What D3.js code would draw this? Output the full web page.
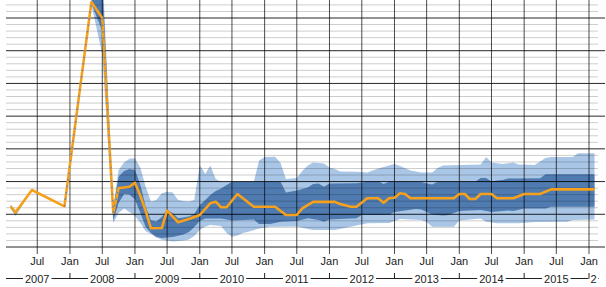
<!DOCTYPE html>
<meta charset="utf-8">
<style>
  body { margin: 0; background: #fff; }
  text { font-family: "Liberation Sans", Arial, sans-serif; font-size: 11px; fill: #222; }
</style>
<body>
<svg id="chart" width="606" height="287"></svg>
<script src="https://cdn.jsdelivr.net/npm/d3@7/dist/d3.min.js"></script>
<script>
// median path (orange)
var median = [
  ["2007-02", 6.16], ["2007-03", 5.3], ["2007-06", 8.71], ["2007-12", 6.2],
  ["2008-05", 37.45], ["2008-07", 35.0], ["2008-09", 5.25], ["2008-10", 9.0],
  ["2008-11", 9.1], ["2008-12", 9.2], ["2009-01", 9.83], ["2009-02", 7.8],
  ["2009-03", 5.6], ["2009-04", 2.86], ["2009-06", 2.9], ["2009-07", 5.55],
  ["2009-09", 3.78], ["2009-11", 4.28], ["2010-01", 4.89], ["2010-03", 6.68],
  ["2010-04", 6.92], ["2010-05", 6.07], ["2010-06", 6.07], ["2010-08", 8.1],
  ["2010-11", 6.16], ["2011-03", 6.16], ["2011-05", 4.89], ["2011-07", 4.89],
  ["2011-08", 5.91], ["2011-10", 6.9], ["2012-02", 6.9], ["2012-03", 6.57],
  ["2012-05", 6.16], ["2012-06", 6.16], ["2012-08", 7.44], ["2012-10", 7.44],
  ["2012-11", 6.77], ["2012-12", 7.44], ["2013-01", 7.53], ["2013-02", 8.21],
  ["2013-03", 8.1], ["2013-04", 7.44], ["2013-12", 7.44], ["2014-01", 8.1],
  ["2014-02", 8.1], ["2014-03", 7.34], ["2014-04", 7.34], ["2014-05", 8.1],
  ["2014-07", 8.1], ["2014-08", 7.44], ["2014-11", 7.44], ["2015-01", 8.1],
  ["2015-04", 8.1], ["2015-06", 8.8], ["2016-02", 8.8]
];

// outer (light) band
var outerUpper = [
  ["2007-02", 6.5], ["2007-03", 5.6], ["2007-06", 8.76], ["2007-12", 6.25],
  ["2008-05", 37.8], ["2008-07", 43], ["2008-09", 6.2], ["2008-10", 11.77],
  ["2008-11", 12.9], ["2008-12", 13.5], ["2009-01", 13.56], ["2009-02", 12.07],
  ["2009-03", 9.32], ["2009-04", 6.95], ["2009-05", 7.18], ["2009-06", 8.21],
  ["2009-07", 8.45], ["2009-08", 8.33], ["2009-09", 7.18], ["2009-10", 7.03],
  ["2009-11", 6.95], ["2009-12", 7.18], ["2010-01", 12.53], ["2010-02", 11.16],
  ["2010-03", 12.46], ["2010-04", 10.39], ["2010-05", 9.98], ["2010-11", 9.98],
  ["2010-12", 13.22], ["2011-01", 13.76], ["2011-03", 13.8], ["2011-04", 12.84],
  ["2011-05", 10.39], ["2011-07", 10.55], ["2011-08", 11.6], ["2011-09", 12.46],
  ["2011-10", 12.91], ["2011-12", 12.76], ["2012-01", 12.15], ["2012-02", 11.92],
  ["2012-03", 11.54], ["2012-06", 11.51], ["2012-08", 11.39], ["2012-10", 12.0],
  ["2012-12", 12.46], ["2013-01", 12.69], ["2013-02", 12.38], ["2013-04", 11.69],
  ["2013-06", 11.39], ["2013-08", 11.39], ["2013-09", 12.07], ["2013-10", 12.46],
  ["2014-05", 12.61], ["2014-06", 13.76], ["2014-07", 12.91], ["2014-09", 12.69],
  ["2014-11", 12.91], ["2014-12", 12.61], ["2015-03", 12.53], ["2015-05", 13.6],
  ["2015-06", 13.76], ["2015-10", 13.76], ["2015-11", 14.32], ["2016-02", 14.32]
];
var outerLower = [
  ["2007-02", 5.85], ["2007-03", 4.75], ["2007-06", 8.66], ["2007-12", 6.15],
  ["2008-05", 37.0], ["2008-07", 29.5], ["2008-09", 3.7], ["2008-10", 5.2],
  ["2008-11", 5.88], ["2008-12", 5.35], ["2009-01", 4.74], ["2009-02", 3.67],
  ["2009-03", 2.45], ["2009-04", 1.99], ["2009-05", 1.45], ["2009-06", 1.12],
  ["2009-08", 0.84], ["2009-10", 0.99], ["2009-11", 1.15], ["2009-12", 1.68],
  ["2010-01", 2.6], ["2010-02", 3.13], ["2010-03", 3.36], ["2010-05", 3.21],
  ["2010-06", 2.14], ["2010-07", 1.57], ["2010-08", 1.76], ["2010-09", 2.14],
  ["2010-10", 2.34], ["2010-12", 2.83], ["2011-02", 3.1], ["2011-07", 3.13],
  ["2011-09", 2.75], ["2011-10", 2.6], ["2012-02", 2.6], ["2012-06", 3.29],
  ["2012-08", 3.62], ["2012-12", 3.67], ["2013-02", 4.28], ["2013-06", 4.13],
  ["2013-07", 3.82], ["2013-08", 3.1], ["2013-12", 3.1], ["2014-01", 4.05],
  ["2014-05", 4.36], ["2014-06", 3.87], ["2014-08", 3.62], ["2014-12", 3.62],
  ["2015-03", 3.82], ["2015-09", 3.87], ["2015-10", 4.13], ["2016-02", 4.2]
];

// inner (dark) band
var innerUpper = [
  ["2007-02", 6.35], ["2007-03", 5.45], ["2007-06", 8.74], ["2007-12", 6.23],
  ["2008-05", 37.6], ["2008-07", 40.5], ["2008-09", 5.9], ["2008-10", 10.77],
  ["2008-11", 11.6], ["2008-12", 11.92], ["2009-01", 11.77], ["2009-02", 9.48],
  ["2009-03", 6.27], ["2009-04", 4.08], ["2009-05", 3.9], ["2009-06", 4.59],
  ["2009-07", 5.7], ["2009-08", 5.2], ["2009-09", 4.39], ["2009-10", 4.51],
  ["2009-11", 4.66], ["2009-12", 5.04], ["2010-01", 6.42], ["2010-02", 7.18],
  ["2010-03", 7.95], ["2010-04", 8.56], ["2010-05", 8.94], ["2010-06", 9.48],
  ["2010-07", 9.98], ["2011-04", 9.98], ["2011-05", 8.33], ["2011-07", 8.64],
  ["2011-08", 8.86], ["2011-09", 9.09], ["2011-10", 9.63], ["2011-11", 9.7],
  ["2011-12", 9.22], ["2012-01", 9.7], ["2012-06", 9.74], ["2012-08", 9.98],
  ["2012-10", 10.06], ["2012-11", 9.63], ["2012-12", 9.98], ["2013-06", 9.93],
  ["2013-07", 9.7], ["2013-08", 9.55], ["2013-09", 9.98], ["2014-04", 9.98],
  ["2014-05", 10.55], ["2014-06", 10.55], ["2014-07", 10.01], ["2014-08", 10.16],
  ["2014-09", 10.24], ["2014-10", 10.47], ["2015-04", 10.5], ["2015-05", 11.11],
  ["2016-02", 11.11]
];
var innerLower = [
  ["2007-02", 6.0], ["2007-03", 4.95], ["2007-06", 8.68], ["2007-12", 6.17],
  ["2008-05", 37.2], ["2008-07", 33.0], ["2008-09", 4.02], ["2008-10", 6.72],
  ["2008-11", 8.1], ["2008-12", 8.02], ["2009-01", 7.26], ["2009-02", 5.2],
  ["2009-03", 3.13], ["2009-04", 2.14], ["2009-05", 1.57], ["2009-06", 1.38],
  ["2009-08", 1.53], ["2009-10", 1.91], ["2009-11", 2.29], ["2009-12", 3.06],
  ["2010-01", 3.97], ["2010-02", 4.36], ["2010-05", 4.36], ["2010-07", 4.05],
  ["2010-09", 4.13], ["2010-11", 4.2], ["2010-12", 3.52], ["2011-02", 3.52],
  ["2011-04", 3.87], ["2011-07", 3.97], ["2011-09", 4.39], ["2011-11", 4.13],
  ["2011-12", 3.87], ["2012-01", 4.2], ["2012-06", 4.39], ["2012-07", 4.89],
  ["2012-12", 4.89], ["2013-01", 5.35], ["2013-05", 5.81], ["2013-06", 5.73],
  ["2013-08", 4.97], ["2013-10", 4.81], ["2013-11", 4.89], ["2014-01", 5.5],
  ["2014-05", 5.65], ["2014-07", 5.35], ["2014-09", 5.5], ["2014-10", 5.58],
  ["2014-11", 5.5], ["2015-01", 5.88], ["2015-05", 5.88], ["2015-06", 6.16],
  ["2016-02", 6.16]
];

var halfYearTicks = ["2007-07", "2008-01", "2008-07", "2009-01", "2009-07", "2010-01",
  "2010-07", "2011-01", "2011-07", "2012-01", "2012-07", "2013-01", "2013-07",
  "2014-01", "2014-07", "2015-01", "2015-07", "2016-01"];
var years = ["2007", "2008", "2009", "2010", "2011", "2012", "2013", "2014", "2015", "2016"];

var svg = d3.select("#chart"),
    width = +svg.attr("width"),
    height = +svg.attr("height");

var parse = d3.timeParse("%Y-%m"),
    fmtMonth = d3.timeFormat("%b");

var x = d3.scaleTime()
    .domain([new Date(2007, 0, 1), new Date(2016, 0, 1)])
    .range([5.1, 589]);
var y = d3.scaleLinear().domain([0, 35]).range([247, 18]);

function pt(d) { return [x(parse(d[0])), y(d[1])]; }

function bandPath(upper, lower) {
  var pts = upper.map(pt).concat(lower.slice().reverse().map(pt));
  return d3.line()(pts) + "Z";
}

// bands
svg.append("path").attr("d", bandPath(outerUpper, outerLower)).attr("fill", "#a9c6e7");
svg.append("path").attr("d", bandPath(innerUpper, innerLower)).attr("fill", "#4f7bb0");

// horizontal grid
var grid = svg.append("g");
grid.selectAll("line.h")
  .data(d3.range(0, 38))
  .enter().append("line")
    .attr("x1", 6)
    .attr("x2", function(d) { return d % 5 === 0 ? 605 : 598; })
    .attr("y1", function(d) { return y(d); })
    .attr("y2", function(d) { return y(d); })
    .attr("stroke", function(d) { return d % 5 === 0 ? "rgba(0,0,0,0.85)" : "rgba(0,0,0,0.2)"; })
    .attr("stroke-width", 1);

// vertical grid at half years
grid.selectAll("line.v")
  .data(halfYearTicks)
  .enter().append("line")
    .attr("x1", function(d) { return x(parse(d)); })
    .attr("x2", function(d) { return x(parse(d)); })
    .attr("y1", 0)
    .attr("y2", 254)
    .attr("stroke", "rgba(0,0,0,0.7)")
    .attr("stroke-width", 1);

// median line
var line = d3.line().x(function(d) { return pt(d)[0]; }).y(function(d) { return pt(d)[1]; });
svg.append("path")
    .datum(median)
    .attr("d", line)
    .attr("fill", "none")
    .attr("stroke", "#f7a01c")
    .attr("stroke-width", 2.6)
    .attr("stroke-linejoin", "round");

// blue dashes on the steep parts
var steep = [];
for (var i = 1; i < median.length; i++) {
  var a = pt(median[i - 1]), b = pt(median[i]);
  if (Math.abs((b[1] - a[1]) / (b[0] - a[0])) > 4) steep.push([median[i - 1], median[i]]);
}
svg.selectAll("path.steep")
  .data(steep)
  .enter().append("path")
    .attr("d", line)
    .attr("fill", "none")
    .attr("stroke", "#5a86ba")
    .attr("stroke-width", 1.4)
    .attr("stroke-dasharray", "1.5,5");

// month labels
svg.selectAll("text.m")
  .data(halfYearTicks)
  .enter().append("text")
    .attr("x", function(d) { return x(parse(d)); })
    .attr("y", 265)
    .attr("text-anchor", "middle")
    .text(function(d) { return fmtMonth(parse(d)); });

// year row
var yearY = 278.5;
var boxes = [];
years.forEach(function(yr, i) {
  var last = i === years.length - 1;
  var t = svg.append("text")
      .attr("y", 282.5)
      .text(last ? yr.slice(0, 1) : yr);
  if (last) {
    t.attr("x", x(parse(yr + "-01")) + 1.5);
  } else {
    t.attr("x", x(parse(yr + "-07"))).attr("text-anchor", "middle");
  }
  var bb = t.node().getBBox();
  boxes.push([bb.x - 2, bb.x + bb.width + 2]);
});
var segs = [], start = 6;
boxes.forEach(function(b) { segs.push([start, b[0]]); start = b[1]; });
segs.push([start, 598]);
svg.selectAll("line.yr")
  .data(segs)
  .enter().append("line")
    .attr("x1", function(d) { return d[0]; })
    .attr("x2", function(d) { return d[1]; })
    .attr("y1", yearY).attr("y2", yearY)
    .attr("stroke", "#222");
svg.selectAll("line.jt")
  .data(years.slice(1))
  .enter().append("line")
    .attr("x1", function(d) { return x(parse(d + "-01")); })
    .attr("x2", function(d) { return x(parse(d + "-01")); })
    .attr("y1", 273).attr("y2", yearY)
    .attr("stroke", "#222");
</script>
</body>
